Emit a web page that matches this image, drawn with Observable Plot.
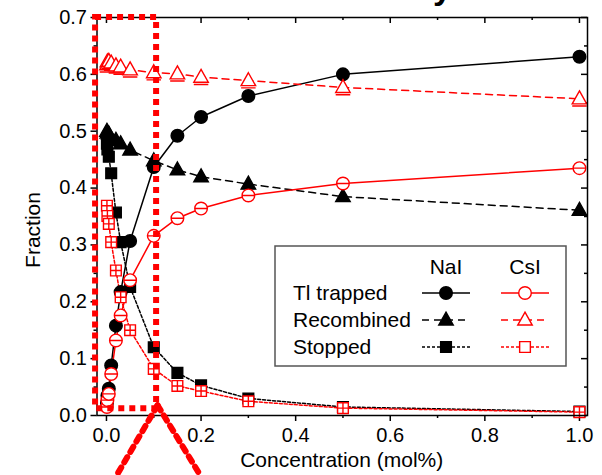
<!DOCTYPE html>
<html>
<head>
<meta charset="utf-8">
<script src="https://cdn.jsdelivr.net/npm/d3@7"></script>
<script src="https://cdn.jsdelivr.net/npm/@observablehq/plot@0.6"></script>
<style>
  body { margin: 0; background: #fff; }
  #chart svg { display: block; }
</style>
</head>
<body>
<div id="chart"></div>
<script>
// Tl concentration (mol%) of each sample
const conc = [0.001, 0.002, 0.005, 0.01, 0.02, 0.03, 0.05, 0.1, 0.15, 0.2, 0.3, 0.5, 1.0];

// NaI:Tl fractions
const naiTrapped    = [0.022, 0.035, 0.047, 0.088, 0.158, 0.217, 0.307, 0.437, 0.492, 0.525, 0.562, 0.600, 0.631];
const naiRecombined = [0.500, 0.497, 0.495, 0.486, 0.484, 0.478, 0.467, 0.448, 0.432, 0.420, 0.407, 0.385, 0.361];
const naiStopped    = [0.478, 0.468, 0.455, 0.426, 0.357, 0.305, 0.226, 0.120, 0.075, 0.053, 0.030, 0.015, 0.007];

// CsI:Tl fractions
const csiTrapped    = [0.015, 0.027, 0.038, 0.073, 0.132, 0.176, 0.238, 0.316, 0.347, 0.364, 0.387, 0.408, 0.435];
const csiRecombined = [0.617, 0.622, 0.623, 0.620, 0.615, 0.613, 0.608, 0.603, 0.601, 0.595, 0.589, 0.577, 0.557];
const csiStopped    = [0.369, 0.351, 0.337, 0.305, 0.255, 0.208, 0.150, 0.082, 0.052, 0.043, 0.025, 0.013, 0.006];

// axis ticks
const xMajor = [0, 0.2, 0.4, 0.6, 0.8, 1.0];
const xMinor = [0.1, 0.3, 0.5, 0.7, 0.9];
const yMajor = [0, 0.1, 0.2, 0.3, 0.4, 0.5, 0.6, 0.7];
const yMinor = [0.05, 0.15, 0.25, 0.35, 0.45, 0.55, 0.65];

// highlighted low-concentration region and its guide lines
const zoomBoxX = [-0.023, 0.106];
const zoomBoxY = [0.012, 0.700];
const guideFrom = [0.108, 0.018];
const guideToX = [0.021, 0.199];
const guideToY = -0.106;

// legend entries
const seriesNames = ["Tl trapped", "Recombined", "Stopped"];
const materials = ["NaI", "CsI"];

const font = '"Liberation Sans", Arial, Helvetica, sans-serif';
const RED = "#ff0000";

// marker shapes; radius r = sqrt(size / PI)
const rad = (size) => Math.sqrt(size / Math.PI);
const circleSym = {draw(c, s) { const r = rad(s); c.moveTo(r, 0); c.arc(0, 0, r, 0, 2 * Math.PI); c.closePath(); }};
const circleBarSym = {draw(c, s) { const r = rad(s); c.moveTo(r, 0); c.arc(0, 0, r, 0, 2 * Math.PI); c.closePath(); c.moveTo(-r, 0); c.lineTo(r, 0); }};
const triSym = {draw(c, s) { const r = rad(s); c.moveTo(0, -1.25 * r); c.lineTo(1.15 * r, 0.8 * r); c.lineTo(-1.15 * r, 0.8 * r); c.closePath(); }};
const triBarSym = {draw(c, s) { const r = rad(s); c.moveTo(0, -1.25 * r); c.lineTo(1.15 * r, 0.8 * r); c.lineTo(-1.15 * r, 0.8 * r); c.closePath(); c.moveTo(-1.15 * r, 1.15 * r); c.lineTo(1.15 * r, 1.15 * r); }};
const sqSym = {draw(c, s) { const r = rad(s) * 0.85; c.rect(-r, -r, 2 * r, 2 * r); }};
const sqCrossSym = {draw(c, s) { const r = rad(s) * 0.85; c.rect(-r, -r, 2 * r, 2 * r); c.moveTo(-r, 0); c.lineTo(r, 0); c.moveTo(0, -r); c.lineTo(0, r); }};

const rows = (ys) => conc.map((x, i) => ({x, y: ys[i]}));

const series = [
  {data: rows(naiTrapped),    stroke: "#000", dash: null,  fill: "#000", sym: circleSym},
  {data: rows(naiRecombined), stroke: "#000", dash: "7,5", fill: "#000", sym: triSym},
  {data: rows(naiStopped),    stroke: "#000", dash: "3,2", fill: "#000", sym: sqSym},
  {data: rows(csiTrapped),    stroke: RED,    dash: null,  fill: "#fff", sym: circleBarSym},
  {data: rows(csiRecombined), stroke: RED,    dash: "7,5", fill: "#fff", sym: triBarSym},
  {data: rows(csiStopped),    stroke: RED,    dash: "3,2", fill: "#fff", sym: sqCrossSym}
];

// guide segments: from the box corner down towards the figure below
const guides = guideToX.flatMap((x, g) => [
  {g, x: guideFrom[0], y: guideFrom[1]},
  {g, x, y: guideToY}
]);

const marginLeft = 96.5, marginRight = 15, marginTop = 17, marginBottom = 60;
const W = 602, H = 475;
const innerW = W - marginLeft - marginRight, innerH = H - marginTop - marginBottom;

const marks = [];
// bottom / left axes with outward ticks
marks.push(Plot.axisX({ticks: xMajor, tickSize: 6, tickPadding: 6, tickFormat: d => d.toFixed(1), fontSize: 20, strokeWidth: 1.5}));
marks.push(Plot.axisX({ticks: xMinor, tickSize: 3, tickFormat: () => "", strokeWidth: 1.5}));
marks.push(Plot.axisY({ticks: yMajor, tickSize: 6, tickPadding: 4, tickFormat: d => d.toFixed(1), fontSize: 20, strokeWidth: 1.5}));
marks.push(Plot.axisY({ticks: yMinor, tickSize: 3, tickFormat: () => "", strokeWidth: 1.5}));
// mirrored inward ticks on top / right
marks.push(Plot.ruleX(xMajor, {insetBottom: innerH - 6, stroke: "#000", strokeWidth: 1.5}));
marks.push(Plot.ruleX(xMinor, {insetBottom: innerH - 3, stroke: "#000", strokeWidth: 1.5}));
marks.push(Plot.ruleY(yMajor, {insetLeft: innerW - 6, stroke: "#000", strokeWidth: 1.5}));
marks.push(Plot.ruleY(yMinor, {insetLeft: innerW - 3, stroke: "#000", strokeWidth: 1.5}));

for (const s of series) {
  marks.push(Plot.line(s.data, {x: "x", y: "y", stroke: s.stroke, strokeWidth: 1.5, strokeDasharray: s.dash}));
}
for (const s of series) {
  marks.push(Plot.dot(s.data, {x: "x", y: "y", r: 6.3, symbol: s.sym, fill: s.fill, stroke: s.stroke, strokeWidth: 1.4}));
}
marks.push(Plot.frame({stroke: "#000", strokeWidth: 1.5}));

// highlighted region
marks.push(Plot.rect([0], {x1: () => zoomBoxX[0], x2: () => zoomBoxX[1], y1: () => zoomBoxY[0], y2: () => zoomBoxY[1],
  fill: "none", stroke: RED, strokeWidth: 6, strokeDasharray: "6,5"}));
marks.push(Plot.line(guides, {x: "x", y: "y", z: "g", stroke: RED, strokeWidth: 6, strokeDasharray: "6,6", clip: false}));

const chart = Plot.plot({
  width: W, height: H,
  marginLeft, marginRight, marginTop, marginBottom,
  style: {fontFamily: font, fontSize: "20px", color: "#000", background: "#fff", overflow: "visible"},
  x: {domain: [-0.02, 1.017], label: null},
  y: {domain: [0, 0.7], label: null},
  marks
});

const svg = d3.select(chart);

// axis titles
svg.append("text")
  .attr("x", marginLeft + innerW / 2).attr("y", 467)
  .attr("text-anchor", "middle").attr("font-family", font).attr("font-size", 21).attr("fill", "#000")
  .text("Concentration (mol%)");
svg.append("text")
  .attr("transform", `translate(40,${marginTop + innerH / 2 + 14}) rotate(-90)`)
  .attr("text-anchor", "middle").attr("font-family", font).attr("font-size", 21).attr("fill", "#000")
  .text("Fraction");

// title descender peeking in from above
svg.append("text")
  .attr("x", 452).attr("y", -1).attr("text-anchor", "end")
  .attr("font-family", font).attr("font-size", 34).attr("font-weight", "bold").attr("fill", "#000")
  .text("y");

// legend
const lg = svg.append("g").attr("font-family", font).attr("font-size", 21).attr("fill", "#000");
lg.append("rect").attr("x", 275).attr("y", 246).attr("width", 291).attr("height", 120)
  .attr("fill", "#fff").attr("stroke", "#555").attr("stroke-width", 1.5);
const colX = [446, 525];
materials.forEach((m, j) => lg.append("text").attr("x", colX[j]).attr("y", 274).attr("text-anchor", "middle").text(m));
const rowY = [293, 320, 347];
seriesNames.forEach((name, i) => {
  lg.append("text").attr("x", 293).attr("y", rowY[i] + 7).attr("text-anchor", "start").text(name);
  [0, 1].forEach(j => {
    const s = series[j * 3 + i];
    const cx = colX[j];
    lg.append("line").attr("x1", cx - 24).attr("x2", cx + 24).attr("y1", rowY[i]).attr("y2", rowY[i])
      .attr("stroke", s.stroke).attr("stroke-width", 1.5).attr("stroke-dasharray", s.dash);
    const base = [circleSym, triSym, sqSym][i];
    lg.append("path").attr("transform", `translate(${cx},${rowY[i]})`)
      .attr("d", d3.symbol(base, Math.PI * 6.3 * 6.3)())
      .attr("fill", s.fill).attr("stroke", s.stroke).attr("stroke-width", 1.4);
  });
});

document.getElementById("chart").append(chart);
</script>
</body>
</html>
